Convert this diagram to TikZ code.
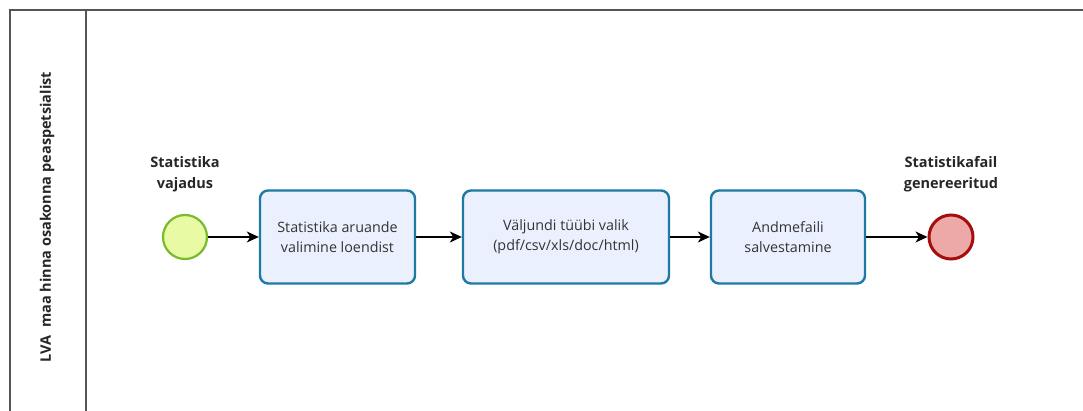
\documentclass[tikz,border=0pt]{standalone}
\usepackage{fontspec}
\setmainfont{Open Sans}
\usetikzlibrary{arrows.meta}
\definecolor{taskfill}{HTML}{EAF0FD}
\definecolor{taskdraw}{HTML}{1F7AA3}
\definecolor{startfill}{HTML}{E8FAA4}
\definecolor{startdraw}{HTML}{79B92C}
\definecolor{endfill}{HTML}{EDA8A8}
\definecolor{enddraw}{HTML}{A50E0E}
\definecolor{lanecol}{HTML}{555555}
\tikzset{
  task/.style={draw=taskdraw, fill=taskfill, line width=2.4pt, rounded corners=8pt,
    minimum height=93pt, align=center, font=\fontsize{14.3}{20.5}\selectfont, text=black!80},
  startev/.style={circle, draw=startdraw, fill=startfill, line width=2.2pt, minimum size=44pt, inner sep=0pt},
  endev/.style={circle, draw=enddraw, fill=endfill, line width=3pt, minimum size=44pt, inner sep=0pt},
  evlabel/.style={align=center, font=\bfseries\fontsize{14.5}{20.5}\selectfont, text=black!85},
  flow/.style={line width=1.2pt, -{Stealth[length=12pt,width=11pt,inset=3.5pt]}},
  lane/.style={draw=lanecol, line width=1.8pt}
}
\begin{document}
\begin{tikzpicture}[x=1pt,y=-1pt]
\useasboundingbox (0,0) rectangle (1083,411);
\coordinate (tl) at (10,10);
\coordinate (tr) at (1083,10);
\coordinate (bl) at (10,411);
\coordinate (dt) at (86,10);
\coordinate (db) at (86,411);
\draw[lane] (bl) -- (tl) -- (tr);
\draw[lane] (dt) -- (db);
\node[rotate=90, font=\bfseries\fontsize{14.5}{16}\selectfont, text=black!85] (lanelbl) at (47,217) {LVA\ \ maa hinna osakonna peaspetsialist};

\node[startev] (start) at (185,237) {};
\node[evlabel] (startlbl) at (185,174) {Statistika\\vajadus};
\node[task, minimum width=155pt] (t1) at (337.5,237) {Statistika aruande\\valimine loendist};
\node[task, minimum width=206pt] (t2) at (566,237) {Väljundi tüübi valik\\(pdf/csv/xls/doc/html)};
\node[task, minimum width=154pt] (t3) at (788,237) {Andmefaili\\salvestamine};
\node[endev] (end) at (951,237) {};
\node[evlabel] (endlbl) at (951,174) {Statistikafail\\genereeritud};

\draw[flow] (start) -- (t1);
\draw[flow] (t1) -- (t2);
\draw[flow] (t2) -- (t3);
\draw[flow] (t3) -- (end);
\end{tikzpicture}
\end{document}
